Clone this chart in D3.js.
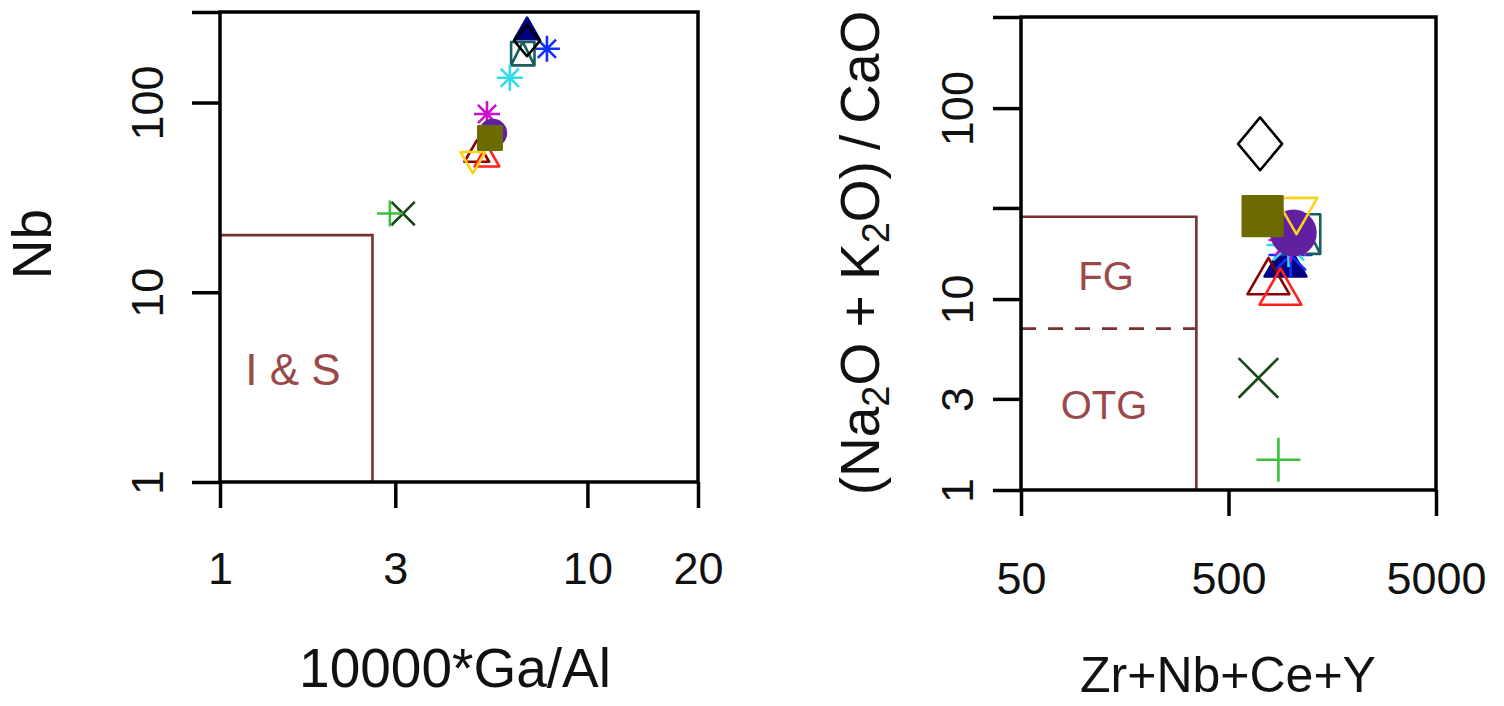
<!DOCTYPE html>
<html>
<head>
<meta charset="utf-8">
<title>Ga/Al and Whalen diagrams</title>
<script src="https://cdn.jsdelivr.net/npm/d3@7/dist/d3.min.js"></script>
<style>
  body { margin: 0; background: #fff; }
  svg { display: block; font-family: "Liberation Sans", Arial, sans-serif; }
  .tick line { stroke: #000; stroke-width: 3.5; }
  .domain { display: none; }
</style>
</head>
<body>
<script>
// ---- data (one entry per sample, same order in every array) ----
var gaAl    = [6.85, 7.76, 6.67, 6.15, 5.33, 5.53, 5.0, 5.33, 4.88, 5.43, 6.85, 3.15, 2.9];
var nb      = [239, 192, 181, 135, 87, 69, 54, 51, 49.5, 65, 212, 26, 26];
var zrNbCeY = [941, 995, 1111, 973, 995, 1028, 779, 890, 1063, 730, 710, 697, 870];
var alkCaO  = [15.6, 17.0, 21.9, 19.2, 20.4, 22.2, 12.6, 11.1, 28.5, 27.2, 65, 3.86, 1.44];
var symbols = ["triangleFilled", "asterisk", "squareTri", "asterisk", "asterisk", "circleFilled",
               "triangle", "triangle", "triangleDown", "squareFilled", "diamond", "cross", "plus"];
var colours = ["#000080", "#1030ff", "#1b5e5e", "#30dcec", "#cc10cc", "#6020a0",
               "#8b0000", "#ff2020", "#ffd21a", "#6b6b00", "#000000", "#184818", "#3cc03c"];

// field boundaries
var isLimits  = { gaAl: 2.6, nb: 20 };          // I & S granites
var fgLimits  = { sum: 350, top: 27, otg: 7 };  // FG / OTG

// tick values
var leftX  = [1, 3, 10, 20];
var leftY  = [1, 10, 100, 300];
var leftYLabels = [1, 10, 100];
var rightX = [50, 500, 5000];
var rightY = [1, 3, 10, 30, 100, 300];
var rightYLabels = [1, 3, 10, 100];

var fieldColour = "#7a2e2e";
var textColour = "#9b4848";

var svg = d3.select("body").append("svg")
  .attr("width", 1504)
  .attr("height", 706);

// symbol paths, r = half size
function symbolPath(type, r) {
  var h = r * 0.9;
  switch (type) {
    case "diamond": return "M0," + (-r * 1.2) + "L" + r + ",0L0," + (r * 1.2) + "L" + (-r) + ",0Z";
    case "squareFilled": return "M" + (-h) + "," + (-h) + "H" + h + "V" + h + "H" + (-h) + "Z";
    case "cross": return "M" + (-h) + "," + (-h) + "L" + h + "," + h + "M" + h + "," + (-h) + "L" + (-h) + "," + h;
    case "plus": return "M" + (-r) + ",0H" + r + "M0," + (-r) + "V" + r;
    case "asterisk":
      return "M" + (-r) + ",0H" + r + "M0," + (-r) + "V" + r +
             "M" + (-r * 0.7) + "," + (-r * 0.7) + "L" + (r * 0.7) + "," + (r * 0.7) +
             "M" + (r * 0.7) + "," + (-r * 0.7) + "L" + (-r * 0.7) + "," + (r * 0.7);
    case "triangle":
    case "triangleFilled":
      return "M0," + (-r) + "L" + (r * 0.95) + "," + (r * 0.65) + "L" + (-r * 0.95) + "," + (r * 0.65) + "Z";
    case "triangleDown":
      return "M0," + r + "L" + (r * 0.95) + "," + (-r * 0.65) + "L" + (-r * 0.95) + "," + (-r * 0.65) + "Z";
    case "squareTri":
      return "M" + (-h) + "," + (-h) + "H" + h + "V" + h + "H" + (-h) + "Z" +
             "M" + (-h) + "," + h + "L0," + (-h) + "L" + h + "," + h;
    case "circleFilled":
      return "M" + r + ",0A" + r + "," + r + " 0 1,1 " + (-r) + ",0A" + r + "," + r + " 0 1,1 " + r + ",0Z";
  }
}
function isFilled(type) {
  return type == "squareFilled" || type == "triangleFilled" || type == "circleFilled";
}

function drawPoints(g, xs, ys, xScale, yScale, r, sw) {
  for (var i = 0; i < symbols.length; i++) {
    var filled = isFilled(symbols[i]);
    g.append("path")
      .attr("d", symbolPath(symbols[i], r))
      .attr("transform", "translate(" + xScale(xs[i]) + "," + yScale(ys[i]) + ")")
      .attr("fill", filled ? colours[i] : "none")
      .attr("stroke", colours[i])
      .attr("stroke-width", sw)
      .attr("stroke-linejoin", "round");
  }
}

function frame(xScale, yScale) {
  var x0 = xScale.range()[0], x1 = xScale.range()[1];
  var y0 = yScale.range()[0], y1 = yScale.range()[1];
  svg.append("rect")
    .attr("x", x0).attr("y", y1)
    .attr("width", x1 - x0).attr("height", y0 - y1)
    .attr("fill", "none").attr("stroke", "#000").attr("stroke-width", 3.5);
}

function axes(xScale, yScale, xTicks, yTicks, yLabels, xLabelTop, yLabelX) {
  var y0 = yScale.range()[0], x0 = xScale.range()[0];
  var gx = svg.append("g").attr("transform", "translate(0," + y0 + ")")
    .call(d3.axisBottom(xScale).tickValues(xTicks).tickSize(26).tickFormat(d3.format("d")));
  gx.selectAll("text")
    .attr("y", xLabelTop).attr("dy", "0.71em")
    .attr("font-size", 45).attr("fill", "#111");

  var gy = svg.append("g").attr("transform", "translate(" + x0 + ",0)")
    .call(d3.axisLeft(yScale).tickValues(yTicks).tickSize(28)
      .tickFormat(function (d) { return yLabels.indexOf(d) >= 0 ? d : ""; }));
  gy.selectAll("text")
    .attr("x", 0).attr("y", 0).attr("dy", "0.35em")
    .attr("text-anchor", "middle")
    .attr("transform", "translate(" + yLabelX + ",0) rotate(-90)")
    .attr("font-size", 45).attr("fill", "#111");
}

// ---------------- left panel: Nb vs 10000*Ga/Al ----------------
var xL = d3.scaleLog().domain([1, 20]).range([220, 698]);
var yL = d3.scaleLog().domain([1, 300]).range([482, 12]);

svg.append("path")
  .attr("d", "M" + xL(1) + "," + yL(isLimits.nb) + "H" + xL(isLimits.gaAl) + "V" + yL(1))
  .attr("fill", "none").attr("stroke", fieldColour).attr("stroke-width", 2.6);
svg.append("text").text("I & S")
  .attr("x", 293).attr("y", 370).attr("dy", "0.35em")
  .attr("text-anchor", "middle").attr("font-size", 44).attr("fill", textColour);

drawPoints(svg.append("g"), gaAl, nb, xL, yL, 13, 2.6);
axes(xL, yL, leftX, leftY, leftYLabels, 70, -73);
frame(xL, yL);

svg.append("text").text("10000*Ga/Al")
  .attr("x", 455).attr("y", 668).attr("dy", "0.35em")
  .attr("text-anchor", "middle").attr("font-size", 55).attr("fill", "#111");
svg.append("text").text("Nb")
  .attr("transform", "translate(32,244) rotate(-90)").attr("dy", "0.35em")
  .attr("text-anchor", "middle").attr("font-size", 55).attr("fill", "#111");

// ---------------- right panel: (Na2O+K2O)/CaO vs Zr+Nb+Ce+Y ----------------
var xR = d3.scaleLog().domain([50, 5000]).range([1021, 1436]);
var yR = d3.scaleLog().domain([1, 300]).range([490, 17]);

svg.append("path")
  .attr("d", "M" + xR(50) + "," + yR(fgLimits.top) + "H" + xR(fgLimits.sum) + "V" + yR(1))
  .attr("fill", "none").attr("stroke", fieldColour).attr("stroke-width", 2.6);
svg.append("line")
  .attr("x1", xR(50)).attr("x2", xR(fgLimits.sum))
  .attr("y1", yR(fgLimits.otg)).attr("y2", yR(fgLimits.otg))
  .attr("stroke", fieldColour).attr("stroke-width", 2.6).attr("stroke-dasharray", "15,12");
svg.append("text").text("FG")
  .attr("x", 1106).attr("y", 276).attr("dy", "0.35em")
  .attr("text-anchor", "middle").attr("font-size", 40).attr("fill", textColour);
svg.append("text").text("OTG")
  .attr("x", 1104).attr("y", 405).attr("dy", "0.35em")
  .attr("text-anchor", "middle").attr("font-size", 40).attr("fill", textColour);

drawPoints(svg.append("g"), zrNbCeY, alkCaO, xR, yR, 22, 2.6);
axes(xR, yR, rightX, rightY, rightYLabels, 72, -64);
frame(xR, yR);

svg.append("text").text("Zr+Nb+Ce+Y")
  .attr("x", 1228).attr("y", 674).attr("dy", "0.35em")
  .attr("text-anchor", "middle").attr("font-size", 50).attr("fill", "#111");

var yt = svg.append("text")
  .attr("transform", "translate(860,253) rotate(-90)").attr("dy", "0.35em")
  .attr("text-anchor", "middle").attr("font-size", 55).attr("fill", "#111");
yt.append("tspan").text("(Na");
yt.append("tspan").text("2").attr("font-size", 38).attr("baseline-shift", "-25%");
yt.append("tspan").text("O + K");
yt.append("tspan").text("2").attr("font-size", 38).attr("baseline-shift", "-25%");
yt.append("tspan").text("O)\u2009/\u2009CaO");
</script>
</body>
</html>
